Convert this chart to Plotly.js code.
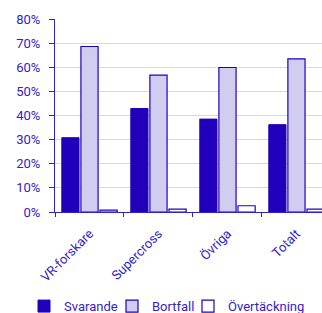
<!DOCTYPE html>
<html><head><meta charset="utf-8">
<script src="https://cdn.plot.ly/plotly-3.0.1.min.js"></script>
<style>html,body{margin:0;padding:0;background:#fff}#c{width:322px;height:313px}</style>
</head><body><div id="c"></div>
<script>
const categories = ["VR-forskare", "Supercross", "Övriga", "Totalt"];
const svarande = [30.8, 42.9, 38.5, 36.2];
const bortfall = [68.6, 56.7, 59.9, 63.5];
const overtackning = [0.8, 1.2, 2.6, 1.2];
const yTicks = [0, 10, 20, 30, 40, 50, 60, 70, 80];
const yTickLabels = yTicks.map(v => v + "%");

const txt = "#3322cc";
const edge = "#2200bb";
const traces = [
  {type: "bar", name: "Svarande", x: categories, y: svarande, legend: "legend",
   marker: {color: "#2200bb", line: {color: edge, width: 1}}},
  {type: "bar", name: "Bortfall", x: categories, y: bortfall, legend: "legend2",
   marker: {color: "#d0cdf0", line: {color: edge, width: 1.2}}},
  {type: "bar", name: "Övertäckning", x: categories, y: overtackning, legend: "legend3",
   marker: {color: "#ffffff", line: {color: edge, width: 1.2}}}
];
function leg(x) {
  return {orientation: "h", xref: "container", yref: "container", x: x, xanchor: "left",
          y: 0.022, yanchor: "middle", bgcolor: "rgba(0,0,0,0)", borderwidth: 0,
          font: {size: 13, color: txt}, itemwidth: 30};
}
const layout = {
  width: 322, height: 313,
  margin: {l: 55, r: 0, t: 19, b: 101},
  font: {family: "Roboto, sans-serif", size: 13, color: txt},
  barmode: "group", bargap: 0.17, bargroupgap: 0.1,
  showlegend: true,
  legend: leg(24 / 322), legend2: leg(112 / 322), legend3: leg(188 / 322),
  xaxis: {range: [-0.5, 3.37], tickangle: -45, showline: true, linecolor: "#3322cc", linewidth: 1,
          ticks: "outside", ticklen: 4, tickcolor: "#3322cc", tickson: "boundaries",
          ticklabelstandoff: 8,
          showgrid: false, fixedrange: true},
  yaxis: {range: [0, 80], tickvals: yTicks, ticktext: yTickLabels, showline: true,
          linecolor: "#3322cc", linewidth: 1, ticks: "outside", ticklen: 5, tickcolor: "#3322cc",
          ticklabelstandoff: 6,
          gridcolor: "#d8d6f0", gridwidth: 1, zeroline: false, fixedrange: true},
  plot_bgcolor: "#fff", paper_bgcolor: "#fff"
};
Plotly.newPlot("c", traces, layout, {displayModeBar: false, staticPlot: true});
</script></body></html>
